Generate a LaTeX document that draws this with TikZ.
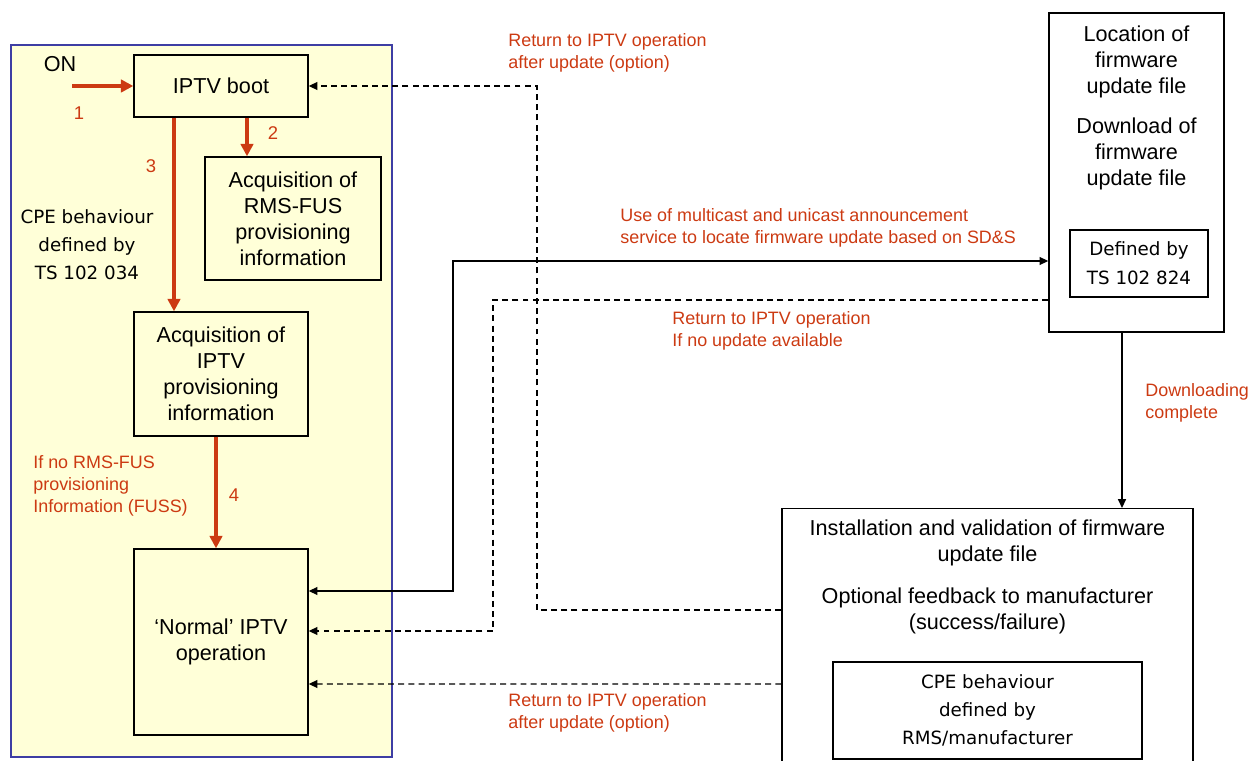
\documentclass[tikz,border=0pt]{standalone}
\usepackage{fontspec}
\setmainfont{Liberation Sans}
\newfontfamily\cpefont{DejaVu Sans}
\usetikzlibrary{arrows.meta,positioning}
\definecolor{etsired}{RGB}{204,58,18}
\definecolor{etsiyellow}{RGB}{255,255,216}
\definecolor{etsiblue}{RGB}{62,62,164}

\begin{document}
\begin{tikzpicture}[>={Triangle[length=5pt,width=4.5pt]},
    font=\fontsize{12.3}{14.8}\selectfont,
    box/.style={draw,line width=0.8pt,fill=etsiyellow,align=center,inner sep=2pt},
    wbox/.style={draw,line width=0.8pt,fill=white,align=center,inner sep=2pt},
    cpe/.style={align=center,inner sep=0pt,font=\cpefont\fontsize{10.4}{15.9}\selectfont},
    lbl/.style={text=etsired,align=left,anchor=west,inner sep=0pt,font=\fontsize{10.2}{12.4}\selectfont},
    num/.style={text=etsired,inner sep=0pt,font=\fontsize{10.5}{12}\selectfont},
    redflow/.style={->,>={Triangle[length=7pt,width=7pt]},draw=etsired,line width=1.8pt,shorten >=0pt},
    flow/.style={line width=0.8pt},
    dashflow/.style={line width=0.85pt,dash pattern=on 3.4pt off 2.4pt}]
    \useasboundingbox (0,0) rectangle (25.02,-15.22);
    \clip (0,0) rectangle (25.02,-15.22);
    % CPE side
    \node[draw=etsiblue,fill=etsiyellow,line width=1pt,minimum width=7.62cm,
          minimum height=14.24cm,anchor=north west] (zone) at (0.20,-0.88) {};
    \node[box,minimum width=3.48cm,minimum height=1.24cm] (boot) at (4.42,-1.72) {IPTV boot};
    \node[box,minimum width=3.52cm,minimum height=2.46cm] (rms) at (5.86,-4.37)
        {Acquisition of\\RMS-FUS\\provisioning\\information};
    \node[box,minimum width=3.48cm,minimum height=2.48cm] (acq) at (4.42,-7.48)
        {Acquisition of\\IPTV\\provisioning\\information};
    \node[box,minimum width=3.48cm,minimum height=3.72cm] (normal) at (4.42,-12.84)
        {‘Normal’ IPTV\\operation};
    \node[cpe] (cpeleft) at (1.74,-4.90) {CPE behaviour\\defined by\\TS 102 034};
    \node[inner sep=0pt] (on) at (1.20,-1.28) {ON};
    \coordinate (onstart) at (1.44,-1.72);
    % server side
    \node[wbox,minimum width=3.50cm,minimum height=6.38cm] (loc) at (22.73,-3.45) {};
    \node[align=center,inner sep=0pt] (loctxt) at (22.73,-2.16)
        {Location of\\firmware\\update file\\[7.9pt]Download of\\firmware\\update file};
    \node[wbox,line width=1.2pt,minimum width=2.76cm,minimum height=1.34cm,cpe,font=\cpefont\fontsize{10.4}{16.4}\selectfont] (ts824) at (22.78,-5.27)
        {Defined by\\TS 102 824};
    \node[wbox,minimum width=8.22cm,minimum height=6cm,anchor=north] (inst) at (19.75,-10.16) {};
    \node[align=center,inner sep=0pt] (insttxt) at (19.75,-11.53)
        {Installation and validation of firmware\\update file\\[9pt]Optional feedback to manufacturer\\(success/failure)};
    \node[wbox,minimum width=6.18cm,minimum height=1.94cm,cpe] (rmsman) at (19.75,-14.21)
        {CPE behaviour\\defined by\\RMS/manufacturer};
    % bends of the long connectors
    \coordinate (busA) at (9.06,0);
    \coordinate (busB) at (9.86,0);
    \coordinate (busC) at (10.74,0);
    \coordinate (mcloc) at ([yshift=-1.77cm]loc.west);
    \coordinate (mcnorm) at ([yshift=1.02cm]normal.east);
    \coordinate (noloc) at ([yshift=-2.55cm]loc.west);
    \coordinate (nonorm) at ([yshift=0.22cm]normal.east);
    \coordinate (upinst) at ([yshift=-2.04cm]inst.north west);
    \coordinate (lowinst) at ([yshift=-3.52cm]inst.north west);
    % CPE steps
    \draw[redflow] (onstart) -- (boot.west);
    \draw[redflow] ([xshift=0.52cm]boot.south) -- ([xshift=0.52cm]boot.south |- rms.north);
    \draw[redflow] ([xshift=-0.94cm]boot.south) -- ([xshift=-0.94cm]boot.south |- acq.north);
    \draw[redflow] ([xshift=-0.10cm]acq.south) -- ([xshift=-0.10cm]acq.south |- normal.north);
    \node[num] (n1) at (1.58,-2.26) {1};
    \node[num] (n2) at (5.46,-2.66) {2};
    \node[num] (n3) at (3.02,-3.32) {3};
    \node[num] (n4) at (4.68,-9.90) {4};
    % firmware update connectors
    \draw[flow,<->] (mcloc) -| (busA |- mcnorm) -- (mcnorm);
    \draw[dashflow,->] (noloc) -| (busB |- nonorm) -- (nonorm);
    \draw[dashflow,->] (upinst) -| (busC |- boot.east) -- (boot.east);
    \draw[dashflow,->] (lowinst) -- ([yshift=-0.84cm]normal.east);
    \draw[flow,->] ([xshift=-0.29cm]loc.south) -- ([xshift=-0.29cm]loc.south |- inst.north);
    % labels
    \node[lbl] (lret1) at (10.16,-1.06) {Return to IPTV operation\\after update (option)};
    \node[lbl] (lmc) at (12.40,-4.55) {Use of multicast and unicast announcement\\service to locate firmware update based on SD\&S};
    \node[lbl] (lnoupd) at (13.44,-6.62) {Return to IPTV operation\\If no update available};
    \node[lbl] (ldl) at (22.90,-8.06) {Downloading\\complete};
    \node[lbl] (lret2) at (10.16,-14.26) {Return to IPTV operation\\after update (option)};
    \node[lbl] (lfuss) at (0.66,-9.72) {If no RMS-FUS\\provisioning\\Information (FUSS)};
\end{tikzpicture}
\end{document}
